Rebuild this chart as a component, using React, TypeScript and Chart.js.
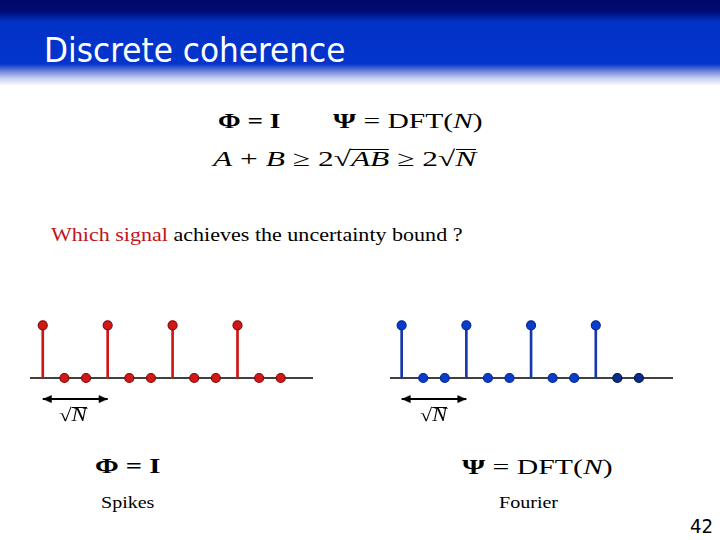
import React, { useEffect, useLayoutEffect, useRef, useState } from "react";
import { Chart, registerables } from "chart.js";
Chart.register(...registerables);

// ---- data ----
const sampleIndex = [0, 1, 2, 3, 4, 5, 6, 7, 8, 9, 10, 11];
const spikesSignal = [1, 0, 0, 1, 0, 0, 1, 0, 0, 1, 0, 0];
const fourierSignal = [1, 0, 0, 1, 0, 0, 1, 0, 0, 1, 0, 0];
const arrowSpan = [0, 3]; // one period = sqrt(N) samples
const arrowLevel = -0.4;

const Y_MIN = -0.607;
const Y_MAX = 1.48;

function makeArrowHead(): HTMLCanvasElement {
  const c = document.createElement("canvas");
  c.width = 20;
  c.height = 12;
  const ctx = c.getContext("2d")!;
  ctx.fillStyle = "#000";
  ctx.beginPath();
  ctx.moveTo(10, 6);
  ctx.lineTo(1, 2);
  ctx.lineTo(1, 10);
  ctx.closePath();
  ctx.fill();
  return c;
}

type StemProps = {
  left: number;
  top: number;
  width: number;
  height: number;
  xMin: number;
  xMax: number;
  values: number[];
  stemColor: string;
  dotColors: string[];
  dotBorders: string[];
};

function StemChart(p: StemProps) {
  const ref = useRef<HTMLCanvasElement>(null);
  useEffect(() => {
    const head = makeArrowHead();
    const chart = new Chart(ref.current!, {
      type: "scatter",
      data: {
        datasets: [
          {
            type: "line",
            data: [
              { x: p.xMin, y: 0 },
              { x: p.xMax, y: 0 },
            ],
            borderColor: "#000",
            borderWidth: 1.5,
            pointRadius: 0,
            order: 4,
            clip: false,
          } as any,
          {
            type: "bar",
            data: sampleIndex.map((x, i) => ({ x, y: p.values[i] })),
            backgroundColor: p.stemColor,
            borderWidth: 0,
            barThickness: 2,
            order: 3,
          } as any,
          {
            type: "line",
            data: arrowSpan.map((x) => ({ x, y: arrowLevel })),
            borderColor: "#000",
            borderWidth: 2,
            pointStyle: head,
            pointRadius: 6,
            pointRotation: [180, 0],
            order: 2,
            clip: false,
          } as any,
          {
            type: "scatter",
            data: sampleIndex.map((x, i) => ({ x, y: p.values[i] })),
            pointRadius: 4.5,
            pointBackgroundColor: p.dotColors,
            pointBorderColor: p.dotBorders,
            pointBorderWidth: 1.2,
            order: 1,
            clip: false,
          } as any,
        ],
      },
      options: {
        animation: false,
        responsive: false,
        maintainAspectRatio: false,
        events: [],
        layout: { padding: 0, autoPadding: false },
        plugins: { legend: { display: false }, tooltip: { enabled: false } },
        scales: {
          x: { type: "linear", min: p.xMin, max: p.xMax, display: false, offset: false },
          y: { type: "linear", min: Y_MIN, max: Y_MAX, display: false },
        },
      },
    });
    return () => chart.destroy();
  }, []);
  return (
    <canvas
      ref={ref}
      width={p.width}
      height={p.height}
      style={{ position: "absolute", left: p.left, top: p.top, width: p.width, height: p.height }}
    />
  );
}

type FitProps = {
  left: number;
  baseline: number;
  width: number;
  size: number;
  font: string;
  color?: string;
  weight?: string | number;
  children: React.ReactNode;
};

function FitText(p: FitProps) {
  const ref = useRef<HTMLDivElement>(null);
  const [sx, setSx] = useState(1);
  useLayoutEffect(() => {
    if (ref.current) {
      const w = ref.current.offsetWidth;
      if (w > 0) setSx(p.width / w);
    }
  }, []);
  return (
    <div
      ref={ref}
      style={{
        position: "absolute",
        left: p.left,
        top: p.baseline - p.size * 0.84,
        fontSize: p.size,
        lineHeight: `${p.size}px`,
        whiteSpace: "nowrap",
        fontFamily: p.font,
        color: p.color || "#000",
        fontWeight: p.weight || "normal",
        transform: `scaleX(${sx})`,
        transformOrigin: "0 0",
      }}
    >
      {p.children}
    </div>
  );
}

function Sqrt({ children }: { children: React.ReactNode }) {
  return (
    <span>
      √
      <span style={{ position: "relative" }}>
        {children}
        <span
          style={{
            position: "absolute",
            left: 0,
            right: 0,
            top: "0.14em",
            borderTop: "1px solid currentColor",
          }}
        />
      </span>
    </span>
  );
}

const MATH = "'Liberation Serif', 'DejaVu Serif', serif";
const BODY = "'Liberation Serif', 'DejaVu Serif', serif";
const SANS = "'DejaVu Sans Condensed', 'DejaVu Sans', sans-serif";

export default function App() {
  const red = "#d01818";
  const redBorder = "#8a0c0c";
  const blue = "#0b3cc8";
  const blueBorder = "#062c9a";
  const spikeDots = sampleIndex.map(() => red);
  const spikeBorders = sampleIndex.map(() => redBorder);
  const fourierDots = sampleIndex.map((i) => (i >= 10 ? "#0c2c8c" : blue));
  const fourierBorders = sampleIndex.map((i) => (i >= 10 ? "#03164e" : blueBorder));

  return (
    <div
      style={{
        position: "absolute",
        left: 0,
        top: 0,
        width: 720,
        height: 540,
        overflow: "hidden",
        background: "#fff",
      }}
    >
      <div
        style={{
          position: "absolute",
          left: 0,
          top: 0,
          width: 720,
          height: 90,
          background:
            "linear-gradient(to bottom, #00086a 0px, #000a72 11px, #0232c6 22px, #0334cc 64px, #5f78d8 70px, #c4cdf0 78px, #ffffff 86px)",
        }}
      />
      <FitText left={44} baseline={62} width={301} size={34} font={SANS} color="#fff">
        Discrete coherence
      </FitText>

      <FitText left={218} baseline={128} width={62} size={22} font={MATH} weight="bold">
        Φ = I
      </FitText>
      <FitText left={333} baseline={128} width={149} size={22} font={MATH}>
        <b>Ψ</b> = DFT(<i>N</i>)
      </FitText>
      <FitText left={213} baseline={166} width={263} size={22} font={MATH}>
        <i>A</i> + <i>B</i> ≥ 2<Sqrt><i>AB</i></Sqrt> ≥ 2<Sqrt><i>N</i></Sqrt>
      </FitText>

      <FitText left={51} baseline={241} width={412} size={19} font={BODY}>
        <span style={{ color: "#c0141c" }}>Which signal</span> achieves the uncertainty bound ?
      </FitText>

      <StemChart
        left={30}
        top={300}
        width={283}
        height={110}
        xMin={-0.59}
        xMax={12.49}
        values={spikesSignal}
        stemColor="#d01414"
        dotColors={spikeDots}
        dotBorders={spikeBorders}
      />
      <StemChart
        left={390}
        top={300}
        width={283}
        height={110}
        xMin={-0.54}
        xMax={12.58}
        values={fourierSignal}
        stemColor="#1638a8"
        dotColors={fourierDots}
        dotBorders={fourierBorders}
      />

      <FitText left={59} baseline={421} width={28} size={18} font={MATH}>
        <Sqrt><i>N</i></Sqrt>
      </FitText>
      <FitText left={420} baseline={421} width={27} size={18} font={MATH}>
        <Sqrt><i>N</i></Sqrt>
      </FitText>

      <FitText left={95} baseline={473} width={65} size={22} font={MATH} weight="bold">
        Φ = I
      </FitText>
      <FitText left={462} baseline={474} width={150} size={22} font={MATH}>
        <b>Ψ</b> = DFT(<i>N</i>)
      </FitText>

      <FitText left={101} baseline={508} width={53} size={17} font={BODY}>
        Spikes
      </FitText>
      <FitText left={499} baseline={508} width={59} size={17} font={BODY}>
        Fourier
      </FitText>

      <FitText left={690} baseline={533} width={23} size={19} font="'DejaVu Sans', sans-serif">
        42
      </FitText>
    </div>
  );
}
